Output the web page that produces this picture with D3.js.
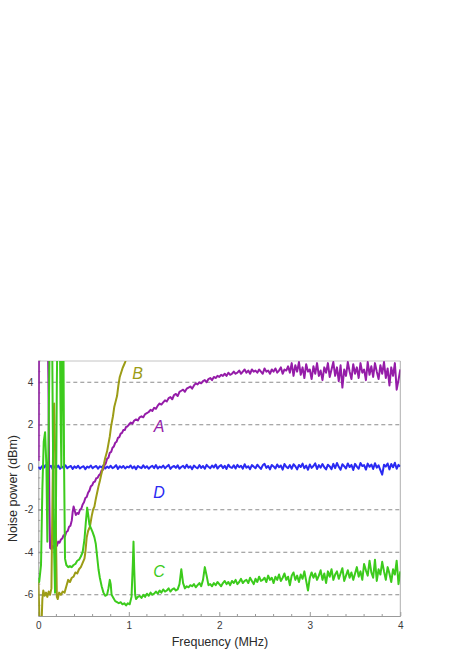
<!DOCTYPE html>
<html>
<head>
<meta charset="utf-8">
<script src="https://cdn.jsdelivr.net/npm/d3@7"></script>
<style>
  html, body { margin: 0; padding: 0; background: #fff; }
  svg { display: block; }
  text { font-family: "Liberation Sans", Arial, sans-serif; }
</style>
</head>
<body>
<svg id="chart" width="463" height="655"></svg>
<script>
// ---------- data ----------
const xTickValues = [0, 1, 2, 3, 4];
const xTickLabels = ["0", "1", "2", "3", "4"];
const yTickValues = [-6, -4, -2, 0, 2, 4];
const yTickLabels = ["-6", "-4", "-2", "0", "2", "4"];
const gridValues = [-6, -4, -2, 2, 4];
const seriesNames = ["A", "B", "C", "D"];

// uniform frequency sampling of the noisy parts (MHz)
const sampleStep = 0.02;

// Curve A (purple)
const aLowFreq = [0.004, 0.008, 0.10, 0.112, 0.122, 0.13, 0.145, 0.16, 0.175, 0.19, 0.205, 0.22, 0.235, 0.25, 0.265, 0.28, 0.295, 0.31, 0.325, 0.34, 0.355, 0.37, 0.38, 0.39, 0.40, 0.415, 0.43, 0.445, 0.46, 0.475, 0.49, 0.505, 0.52, 0.535, 0.55, 0.565, 0.58, 0.595, 0.61, 0.625, 0.64, 0.655, 0.67, 0.685, 0.70, 0.715, 0.73, 0.745, 0.76, 0.775, 0.79, 0.805, 0.82, 0.835, 0.85, 0.865, 0.88, 0.895, 0.91, 0.925, 0.94, 0.955, 0.97, 0.985];
const aLowPower = [0.3, 8, 8, 4, -1.5, -3.8, -3.85, -3.7, -3.8, -3.65, -3.7, -3.5, -3.55, -3.4, -3.35, -3.2, -3.25, -3.05, -3.0, -2.8, -2.75, -2.5, -2.1, -1.85, -2.0, -2.25, -2.15, -2.2, -2.0, -1.95, -1.75, -1.65, -1.45, -1.4, -1.2, -1.1, -0.9, -0.85, -0.7, -0.68, -0.52, -0.5, -0.38, -0.32, -0.15, -0.12, 0.08, 0.18, 0.4, 0.45, 0.68, 0.72, 0.92, 0.98, 1.15, 1.2, 1.38, 1.42, 1.58, 1.62, 1.75, 1.75, 1.9, 1.92];
const aHighStart = 1.0;
const aHighPower = [
  2.0, 2.1, 2.05, 2.2, 2.25, 2.2, 2.35, 2.4, 2.35, 2.5,
  2.55, 2.6, 2.7, 2.65, 2.8, 2.75, 2.9, 3.0, 2.95, 3.05,
  3.15, 3.1, 3.25, 3.3, 3.2, 3.4, 3.45, 3.35, 3.55, 3.6,
  3.65, 3.55, 3.7, 3.75, 3.8, 3.7, 3.85, 3.95, 3.9, 4.0,
  3.95, 4.05, 4.1, 4.0, 4.15, 4.2, 4.1, 4.25, 4.2, 4.3,
  4.25, 4.35, 4.3, 4.4, 4.3, 4.45, 4.35, 4.4, 4.5, 4.4,
  4.45, 4.55, 4.4, 4.5, 4.6, 4.45, 4.55, 4.4, 4.6, 4.5,
  4.55, 4.45, 4.6, 4.5, 4.4, 4.65, 4.5, 4.55, 4.4, 4.6,
  4.5, 4.65, 4.45, 4.55, 4.7, 4.4, 4.6, 4.55, 4.75, 4.45,
  4.9, 4.3, 4.8, 4.5, 4.95, 4.35, 4.7, 4.2, 4.85, 4.5,
  4.6, 4.15, 4.75, 4.4, 4.9, 4.3, 4.55, 4.1, 4.7, 4.45,
  4.9, 4.25, 4.6, 4.95, 4.3, 4.7, 4.05, 4.8, 3.75, 4.6,
  4.3, 4.95, 4.5, 4.15, 4.85, 4.4, 4.7, 4.2, 4.9, 4.45,
  4.6, 4.1, 4.95, 4.35, 4.75, 4.25, 4.9, 4.5, 4.15, 4.8,
  4.4, 4.95, 4.2, 4.65, 3.85, 4.7, 4.3, 4.9, 3.65, 4.1,
  4.6
];

// Curve B (olive)
const bFreq = [0.0, 0.008, 0.015, 0.035, 0.045, 0.055, 0.07, 0.085, 0.10, 0.115, 0.13, 0.145, 0.155, 0.165, 0.175, 0.185, 0.195, 0.205, 0.215, 0.23, 0.25, 0.27, 0.29, 0.31, 0.33, 0.35, 0.37, 0.39, 0.41, 0.43, 0.45, 0.47, 0.49, 0.51, 0.52, 0.535, 0.55, 0.57, 0.59, 0.605, 0.62, 0.635, 0.65, 0.665, 0.68, 0.695, 0.71, 0.725, 0.74, 0.76, 0.775, 0.79, 0.805, 0.825, 0.84, 0.855, 0.87, 0.885, 0.90, 0.915, 0.93, 0.945, 0.96, 0.975];
const bPower = [-5.4, -6.4, -7.5, -7.5, -6.2, -5.8, -6.05, -5.9, -6.1, -5.85, -6.0, -5.7, -2, 1.5, 3.0, 1.0, -3, -6.1, -6.2, -5.9, -6.0, -5.85, -5.9, -5.6, -5.3, -5.4, -5.2, -5.15, -4.95, -5.0, -4.8, -4.7, -4.5, -4.3, -4.0, -3.3, -3.0, -2.8, -2.3, -2.0, -1.85, -1.5, -1.2, -0.9, -0.65, -0.35, -0.1, 0.15, 0.45, 0.75, 1.1, 1.45, 1.95, 2.4, 2.85, 3.1, 3.35, 3.85, 4.25, 4.45, 4.65, 4.8, 4.95, 5.2];

// Curve C (green)
const cLowFreq = [0.0, 0.01, 0.02, 0.03, 0.045, 0.06, 0.075, 0.09, 0.10, 0.115, 0.13, 0.15, 0.16, 0.175, 0.185, 0.195, 0.205, 0.215, 0.235, 0.245, 0.255, 0.265, 0.275, 0.285, 0.295, 0.31, 0.33, 0.35, 0.37, 0.39, 0.41, 0.43, 0.45, 0.47, 0.49, 0.51, 0.525, 0.54, 0.55, 0.565, 0.58, 0.60, 0.62, 0.635, 0.65, 0.665, 0.68, 0.70, 0.72, 0.74, 0.76, 0.775, 0.79, 0.80, 0.81, 0.83, 0.85, 0.87, 0.89, 0.91, 0.93, 0.95, 0.97, 0.99, 1.01, 1.03, 1.045, 1.052, 1.06, 1.07, 1.08];
const cLowPower = [-5.2, -5.4, -5.0, -4.6, -1, 1.2, 1.65, 0.0, -3.5, 2, 8, 8, 2, -4, -5.9, -2, 4, 8, 8, 3, 0, 6, 8, 0, -4.3, -4.6, -4.7, -4.65, -4.7, -4.6, -4.55, -4.4, -4.35, -4.2, -4.0, -3.4, -2.6, -1.9, -2.2, -2.7, -2.85, -3.05, -3.3, -3.6, -4.2, -4.8, -5.2, -5.6, -5.9, -6.05, -6.0, -5.7, -5.3, -5.5, -6.0, -6.15, -6.3, -6.35, -6.4, -6.35, -6.45, -6.4, -6.5, -6.4, -6.45, -6.1, -4.5, -3.5, -4.8, -6.0, -6.2];
const cHighStart = 1.10;
const cHighPower = [
  -6.1, -6.05, -6.15, -6.0, -6.1, -5.95, -6.05, -5.9, -6.0, -5.95,
  -5.85, -5.95, -5.8, -5.9, -5.75, -5.85, -5.8, -5.7, -5.85, -5.75,
  -5.7, -5.8, -5.75, -5.5, -4.8, -5.45, -5.7, -5.6, -5.65, -5.55,
  -5.6, -5.5, -5.65, -5.55, -5.45, -5.6, -5.3, -4.7, -5.1, -5.55,
  -5.5, -5.6, -5.45, -5.55, -5.4, -5.5, -5.6, -5.45, -5.35, -5.5,
  -5.4, -5.55, -5.35, -5.45, -5.3, -5.5, -5.4, -5.25, -5.45, -5.35,
  -5.3, -5.45, -5.2, -5.35, -5.5, -5.25, -5.4, -5.15, -5.35, -5.3,
  -5.2, -5.4, -5.1, -5.3, -5.2, -5.45, -5.15, -5.3, -5.05, -5.35,
  -5.2, -5.0, -5.3, -5.15, -5.55, -5.1, -4.95, -5.3, -5.1, -5.4,
  -5.05, -5.25, -4.9, -5.35, -5.8, -5.2, -4.95, -5.2, -5.0, -5.3,
  -5.1, -4.85, -5.3, -5.0, -5.45, -4.9, -5.15, -4.8, -5.3, -5.05,
  -4.9, -5.25, -5.0, -4.75, -5.35, -5.1, -4.85, -5.2, -4.95, -5.3,
  -5.0, -4.7, -5.15, -4.9, -5.3, -4.55, -4.85, -5.1, -4.4, -4.95,
  -5.2, -4.35, -5.35, -4.8, -5.05, -4.45, -4.9, -5.3, -4.7, -5.0,
  -5.4, -4.8, -5.05, -4.4, -5.5,
  -4.9
];

// Curve D (blue)
const dStart = 0.0;
const dPower = [
  0.02, -0.08, 0.05, -0.03, 0.1, -0.06, 0.0, 0.07, -0.1, 0.04,
  -0.02, 0.08, -0.07, 0.03, -0.04, 0.09, -0.05, 0.02, 0.06, -0.08,
  0.04, -0.03, 0.07, -0.06, 0.01, 0.05, -0.09, 0.03, -0.02, 0.08,
  -0.05, 0.02, 0.06, -0.07, 0.04, -0.01, 0.09, -0.06, 0.03, -0.03,
  0.07, -0.04, 0.01, 0.1, -0.08, 0.05, -0.02, 0.06, -0.06, 0.03,
  -0.01, 0.08, -0.05, 0.04, -0.09, 0.06, 0.0, -0.04, 0.09, -0.03,
  0.05, -0.07, 0.02, 0.07, -0.04, 0.1, -0.06, 0.03, -0.02, 0.08,
  -0.05, 0.04, 0.11, -0.08, 0.02, 0.06, -0.03, 0.09, -0.07, 0.01,
  0.07, -0.04, 0.12, -0.02, 0.05, -0.09, 0.08, 0.0, -0.05, 0.1,
  -0.03, 0.06, -0.07, 0.11, 0.02, -0.05, 0.08, -0.01, 0.13, -0.06,
  0.04, 0.1, -0.04, 0.07, -0.08, 0.12, 0.01, -0.03, 0.09, -0.06,
  0.11, 0.0, 0.07, -0.07, 0.14, -0.02, 0.05, -0.09, 0.1, 0.03,
  -0.05, 0.12, 0.02, -0.08, 0.09, 0.16, -0.03, 0.06, -0.1, 0.11,
  0.04, -0.06, 0.13, 0.0, 0.08, -0.11, 0.15, 0.02, -0.04, 0.1,
  -0.07, 0.14, 0.05, -0.1, 0.11, 0.01, 0.17, -0.05, 0.08, -0.12,
  0.13, -0.03, 0.06, 0.18, -0.08, 0.1, -0.02, 0.15, 0.0, -0.1,
  0.12, 0.04, -0.09, 0.16, -0.04, 0.2, 0.02, -0.12, 0.14, 0.05,
  -0.06, 0.18, 0.01, 0.11, -0.13, 0.16, 0.03, -0.07, 0.2, 0.06,
  0.1, -0.11, 0.17, 0.02, 0.13, -0.08, 0.19, -0.02, 0.09, -0.14,
  -0.35, 0.12, 0.03, 0.18, -0.1, 0.15, 0.0, 0.21, -0.07, 0.11,
  0.04
];

// ---------- build point lists ----------
const zip = (f, p) => f.map((v, i) => [v, p[i]]);
const uniform = (start, p) => p.map((v, i) => [start + i * sampleStep, v]);

const seriesData = {
  A: zip(aLowFreq, aLowPower).concat(uniform(aHighStart, aHighPower)),
  B: zip(bFreq, bPower),
  C: zip(cLowFreq, cLowPower).concat(uniform(cHighStart, cHighPower)),
  D: uniform(dStart, dPower)
};

// ---------- styles ----------
const colors = { A: "#951ca8", B: "#9c9c16", C: "#3ccb1c", D: "#2a2af2" };
const labelPos = { A: [159, 432], B: [137.5, 378.5], C: [159, 577], D: [159, 497.5] };
const drawOrder = ["D", "A", "B", "C"];

// ---------- chart ----------
const svg = d3.select("#chart");
const plot = { left: 38.3, right: 400.3, top: 361, bottom: 616 };

const x = d3.scaleLinear().domain([0, 4]).range([plot.left, plot.right]);
const y = d3.scaleLinear().domain([-7, 5]).range([plot.bottom, plot.top]);

svg.append("defs").append("clipPath").attr("id", "clip")
  .append("rect")
  .attr("x", plot.left).attr("y", plot.top)
  .attr("width", plot.right - plot.left).attr("height", plot.bottom - plot.top);

// grid lines
svg.append("g").selectAll("line").data(gridValues).join("line")
  .attr("x1", plot.left).attr("x2", plot.right)
  .attr("y1", d => y(d)).attr("y2", d => y(d))
  .attr("stroke", "#8c8c8c").attr("stroke-width", 1.2)
  .attr("stroke-dasharray", "4,3");

// frame top / right
svg.append("line").attr("x1", plot.left).attr("x2", plot.right)
  .attr("y1", plot.top).attr("y2", plot.top)
  .attr("stroke", "#c4c4c4").attr("stroke-width", 1);
svg.append("line").attr("x1", plot.right).attr("x2", plot.right)
  .attr("y1", plot.top).attr("y2", plot.bottom)
  .attr("stroke", "#b0b0b0").attr("stroke-width", 1);

// minor ticks
const xMinor = d3.range(0, 4.001, 0.2).filter(v => Math.abs(v - Math.round(v)) > 1e-6);
const yMinor = d3.range(-7, 5.001, 0.5).filter(v => Math.abs(v / 2 - Math.round(v / 2)) > 1e-6);

const xAxis = d3.axisBottom(x).tickValues(xTickValues)
  .tickFormat((d, i) => xTickLabels[i]).tickSizeInner(-4).tickSizeOuter(0).tickPadding(6);
const yAxis = d3.axisLeft(y).tickValues(yTickValues)
  .tickFormat((d, i) => yTickLabels[i]).tickSizeInner(-4).tickSizeOuter(0).tickPadding(5);

const gx = svg.append("g").attr("transform", `translate(0,${plot.bottom})`).call(xAxis);
const gy = svg.append("g").attr("transform", `translate(${plot.left},0)`).call(yAxis);

[gx, gy].forEach(g => {
  g.select(".domain").attr("stroke", "#9a9a9a").attr("stroke-width", 1);
  g.selectAll(".tick line").attr("stroke", "#9a9a9a");
  g.selectAll(".tick text").attr("fill", "#3a3a3a")
    .attr("font-size", 10).attr("font-family", "Liberation Sans, Arial, sans-serif");
});

gx.append("g").selectAll("line").data(xMinor).join("line")
  .attr("x1", d => x(d)).attr("x2", d => x(d)).attr("y1", 0).attr("y2", -2)
  .attr("stroke", "#9a9a9a");
gy.append("g").selectAll("line").data(yMinor).join("line")
  .attr("y1", d => y(d)).attr("y2", d => y(d)).attr("x1", 0).attr("x2", 2)
  .attr("stroke", "#9a9a9a");

// curves
const line = d3.line().x(d => x(d[0])).y(d => y(d[1]));
const curves = svg.append("g").attr("clip-path", "url(#clip)");
drawOrder.forEach(name => {
  curves.append("path")
    .datum(seriesData[name])
    .attr("fill", "none")
    .attr("stroke", colors[name])
    .attr("stroke-width", 2)
    .attr("stroke-linejoin", "round")
    .attr("d", line);
});

// curve labels
svg.append("g").selectAll("text").data(seriesNames).join("text")
  .attr("x", d => labelPos[d][0]).attr("y", d => labelPos[d][1])
  .attr("text-anchor", "middle")
  .attr("font-style", "italic")
  .attr("font-size", 16)
  .attr("fill", d => colors[d])
  .text(d => d);

// axis titles
svg.append("text")
  .attr("x", 220).attr("y", 646)
  .attr("text-anchor", "middle")
  .attr("font-size", 12.5).attr("fill", "#2a2a2a")
  .text("Frequency (MHz)");

svg.append("text")
  .attr("transform", "translate(16.5,488.5) rotate(-90)")
  .attr("text-anchor", "middle")
  .attr("font-size", 12.5).attr("fill", "#2a2a2a")
  .text("Noise power (dBm)");
</script>
</body>
</html>
